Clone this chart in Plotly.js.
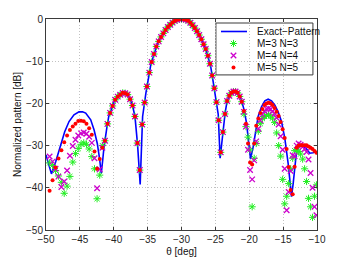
<!DOCTYPE html>
<html>
<head>
<meta charset="utf-8">
<script src="https://cdn.plot.ly/plotly-3.0.1.min.js"></script>
<style>html,body{margin:0;padding:0;background:#fff;}#chart{width:351px;height:260px;}</style>
</head>
<body>
<div id="chart"></div>
<script>
// Sample angles of the approximated patterns (deg)
const theta = [-49.47,-49.03,-48.59,-48.16,-47.73,-47.31,-46.89,-46.47,-46.05,-45.65,
-45.24,-44.83,-44.43,-44.03,-43.63,-43.24,-42.84,-42.46,-42.07,-41.68,
-41.30,-40.92,-40.54,-40.17,-39.79,-39.42,-39.05,-38.68,-38.32,-37.95,
-37.59,-37.23,-36.87,-36.51,-36.16,-35.80,-35.45,-35.10,-34.75,-34.40,
-34.06,-33.71,-33.37,-33.02,-32.68,-32.35,-32.01,-31.67,-31.33,-31.00,
-30.66,-30.33,-30.00,-29.67,-29.34,-29.01,-28.69,-28.36,-28.03,-27.71,
-27.39,-27.07,-26.74,-26.42,-26.10,-25.79,-25.47,-25.15,-24.84,-24.52,
-24.21,-23.89,-23.58,-23.27,-22.95,-22.64,-22.33,-22.02,-21.72,-21.41,
-21.10,-20.79,-20.49,-20.18,-19.88,-19.57,-19.27,-18.97,-18.66,-18.36,
-18.06,-17.76,-17.46,-17.16,-16.86,-16.56,-16.26,-15.96,-15.66,-15.37,
-15.07,-14.77,-14.48,-14.18,-13.89,-13.59,-13.30,-13.00,-12.71,-12.42,
-12.12,-11.83,-11.54,-11.25,-10.95,-10.66,-10.37,-10.08];

// Values shared by all three approximations (main lobe and first side lobes)
const mainLobe = [-28.85,-24.85,-22.25,-20.6,-19.15,-18.4,-17.95,-17.5,-17.6,-17.9,
-19.0,-20.5,-23.1,-29.4,-35.8,-25.0,-19.8,-16.0,-12.7,-10.2,
-8.3,-6.5,-5.3,-4.25,-3.4,-2.6,-1.9,-1.35,-0.85,-0.45,
-0.18,-0.03,0,-0.04,-0.15,-0.4,-0.9,-1.5,-2.15,-2.9,
-3.8,-4.8,-6.0,-7.1,-8.7,-10.6,-13.4,-16.4,-19.7,-24.0,
-31.6,-26.8,-22.5,-19.45,-18.2,-17.5,-17.2,-17.2,-17.5,-18.35,
-19.6];

// M=3 N=3
const leftM3 = [-34.1,-34.7,-35.9,-37.2,-38.7,-41.3,-39.6,-37.3,-33.9,-31.9,
-30.7,-29.7,-29.35,-29.7,-30.8,-32.6,-35.5,-42.6,-37.0,-30.0];
const rightM3 = [-22.5,-25.5,-28.0,-31.0,-44.5,-33.0,-29.5,-26.6,-24.8,-23.6,
-23.1,-22.8,-22.7,-23.0,-23.5,-24.5,-27.0,-30.0,-32.5,-38.0,
-43.8,-42.0,-39.0,-35.5,-33.0,-31.2,-31.0,-31.4,-32.0,-33.2,
-35.5,-38.5,-42.5,-44.5,-47.0,-42.0,-39.3];

// M=4 N=4
const leftM4 = [-32.6,-33.8,-35.5,-37.35,-39.8,-38.5,-35.9,-32.4,-30.1,-28.6,
-27.6,-27.1,-26.9,-27.2,-27.9,-29.35,-33.0,-40.1,-35.6,-30.5];
const rightM4 = [-22.0,-25.5,-31.0,-35.8,-38.0,-33.5,-29.0,-26.0,-24.0,-22.6,
-21.8,-21.3,-21.2,-21.4,-21.9,-22.4,-23.4,-25.0,-27.8,-31.0,
-35.5,-45.3,-41.0,-36.0,-32.3,-32.5,-30.0,-29.5,-29.8,-30.3,
-30.8,-31.5,-33.3,-36.5,-40.0,-44.5,-46.5];

// M=5 N=5
const leftM5 = [-40.7,-38.2,-35.2,-33.05,-31.1,-29.2,-27.6,-26.3,-25.45,-24.8,
-24.2,-24.1,-24.25,-24.85,-25.9,-27.4,-31.4,-35.5,-33.2,-30.5];
const rightM5 = [-21.8,-24.8,-29.5,-34.0,-34.5,-29.5,-25.3,-23.6,-22.3,-21.3,
-20.4,-20.0,-19.85,-19.95,-20.4,-21.1,-22.0,-23.0,-24.4,-26.1,
-28.2,-30.8,-35.1,-40.5,-41.5,-35.0,-30.5,-30.0,-29.9,-29.9,
-29.9,-29.9,-30.2,-30.5,-30.8,-31.3,-31.7];

// Exact pattern (continuous curve)
const exactTheta = [-50.0,-49.6,-49.2,-48.57,-47.83,-47.24,-46.6,-45.87,-45.13,-44.6,
-44.14,-43.4,-42.9,-42.43,-42.1,-41.84,-41.6,-41.45,-41.05,-40.74,
-40.3,-39.97,-39.57,-39.1,-38.6,-37.86,-37.27,-36.87,-36.48,-36.1,
-35.74,-35.25,-34.9,-34.56,-34.2,-33.88,-33.53,-33.19,-32.85,-32.45,
-31.96,-31.46,-30.97,-30.48,-30.0,-29.5,-28.76,-28.17,-27.68,-27.18,
-26.8,-26.4,-26.06,-25.71,-25.42,-25.07,-24.58,-24.3,-23.94,-23.55,
-23.26,-22.71,-22.23,-21.73,-21.24,-20.75,-20.4,-20.06,-19.81,-19.42,
-19.07,-18.69,-18.19,-17.7,-17.21,-16.71,-16.22,-15.74,-15.24,-14.75,
-14.26,-13.76,-13.51,-13.27,-13.02,-12.68,-12.19,-11.69,-11.06,-10.57,
-10.0];
const exactDb = [-32.2,-34.5,-36.7,-33.8,-29.5,-26.7,-24.3,-22.7,-22.0,-22.0,
-22.3,-23.9,-26.3,-29.5,-33.0,-36.6,-33.0,-30.5,-26.1,-23.1,
-21.2,-19.6,-18.6,-18.0,-17.4,-18.0,-20.2,-23.1,-29.9,-39.2,
-23.1,-17.5,-13.9,-11.1,-9.1,-7.2,-5.8,-4.7,-3.8,-2.8,
-1.8,-1.0,-0.4,-0.05,0,-0.1,-0.8,-1.8,-3.0,-4.4,
-5.8,-7.2,-8.9,-11.1,-13.9,-17.2,-22.6,-33.0,-27.5,-22.1,
-19.4,-17.6,-17.1,-17.5,-18.8,-21.6,-24.7,-29.5,-33.2,-30.3,
-26.3,-23.1,-20.8,-19.4,-19.0,-19.4,-20.4,-22.0,-24.3,-28.3,
-34.2,-42.1,-38.9,-34.2,-31.4,-30.3,-30.1,-30.5,-31.8,-31.7,
-31.4];

const legendNames = ['Exact\u2212Pattern','M=3 N=3','M=4 N=4','M=5 N=5'];
const xTicks = [-50,-45,-40,-35,-30,-25,-20,-15,-10];
const yTicks = [-50,-40,-30,-20,-10,0];

const m3 = leftM3.concat(mainLobe, rightM3);
const m4 = leftM4.concat(mainLobe, rightM4);
const m5 = leftM5.concat(mainLobe, rightM5);

const BLUE = '#0000ff', GREEN = '#22ee22', MAG = '#cc00cc', RED = '#ff0000';
const greenMarker = {symbol:'asterisk-open', size:6, color:GREEN, line:{color:GREEN, width:1}};
const magMarker = {symbol:'x-thin-open', size:5.5, color:MAG, line:{color:MAG, width:1.3}};
const redMarker = {symbol:'circle', size:4, color:RED, line:{width:0}};

// legend geometry (overlay axes with 0..1 ranges)
const lgRows = [0.9408, 0.8839, 0.8270, 0.7701];
const lgLineX = [0.6458, 0.7417];
const lgMarkX = 0.6919;
const lgTextX = 0.7712;

const traces = [
  {x: exactTheta, y: exactDb, type:'scatter', mode:'lines', line:{color:BLUE, width:1.6}, showlegend:false},
  {x: theta, y: m3, type:'scatter', mode:'markers', marker:greenMarker, showlegend:false},
  {x: theta, y: m4, type:'scatter', mode:'markers', marker:magMarker, showlegend:false},
  {x: theta, y: m5, type:'scatter', mode:'markers', marker:redMarker, showlegend:false},
  {x: lgLineX, y: [lgRows[0], lgRows[0]], xaxis:'x2', yaxis:'y2', mode:'lines', line:{color:BLUE, width:1.6}, showlegend:false},
  {x: [lgMarkX], y: [lgRows[1]], xaxis:'x2', yaxis:'y2', mode:'markers', marker:greenMarker, showlegend:false},
  {x: [lgMarkX], y: [lgRows[2]], xaxis:'x2', yaxis:'y2', mode:'markers', marker:magMarker, showlegend:false},
  {x: [lgMarkX], y: [lgRows[3]], xaxis:'x2', yaxis:'y2', mode:'markers', marker:redMarker, showlegend:false}
];

const FONT = 'Liberation Sans, Arial, Helvetica, sans-serif';
const axisCommon = {
  showline:true, linecolor:'#3a3a3a', linewidth:1, mirror:'ticks',
  ticks:'inside', ticklen:3, tickcolor:'#3a3a3a', tickwidth:1,
  showgrid:true, gridcolor:'#c2c2c2', griddash:'1px,2px', gridwidth:1,
  zeroline:false, tickfont:{family:FONT, size:10, color:'#262626'}
};

const annotations = legendNames.map((t, i) => ({
  xref:'paper', yref:'paper', x:lgTextX, y:lgRows[i], xanchor:'left', yanchor:'middle',
  text:t, showarrow:false, font:{family:FONT, size:10, color:'#111'}
}));

const layout = {
  width:351, height:260,
  margin:{l:46, r:34, t:19, b:30},
  paper_bgcolor:'#ffffff', plot_bgcolor:'#ffffff',
  showlegend:false,
  xaxis: Object.assign({}, axisCommon, {range:[-50,-10], tickvals:xTicks,
    title:{text:'\u03b8 [deg]', font:{family:FONT, size:10, color:'#111'}, standoff:3}}),
  yaxis: Object.assign({}, axisCommon, {range:[-50,0], tickvals:yTicks,
    title:{text:'Normalized pattern [dB]', font:{family:FONT, size:10, color:'#111'}, standoff:2}}),
  xaxis2: {overlaying:'x', range:[0,1], visible:false, fixedrange:true},
  yaxis2: {overlaying:'y', range:[0,1], visible:false, fixedrange:true},
  shapes: [{type:'rect', xref:'paper', yref:'paper', x0:0.627, x1:0.985, y0:0.735, y1:0.981,
    fillcolor:'#ffffff', line:{color:'#3a3a3a', width:1}, layer:'between'}],
  annotations: annotations
};

Plotly.newPlot('chart', traces, layout, {displayModeBar:false, staticPlot:true});
</script>
</body>
</html>
